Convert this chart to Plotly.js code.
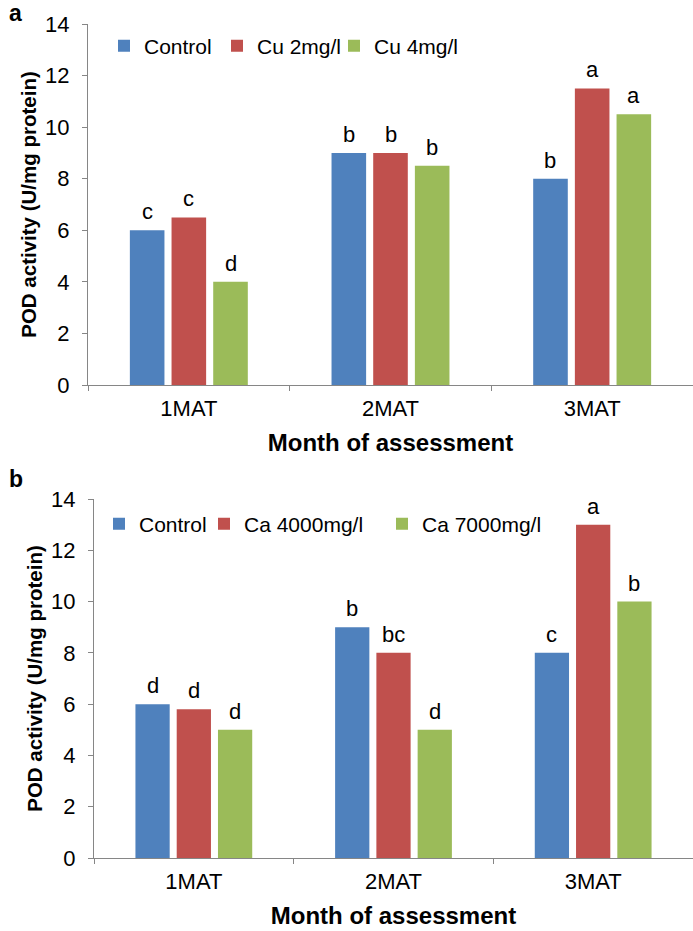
<!DOCTYPE html>
<html><head><meta charset="utf-8">
<script src="https://cdn.plot.ly/plotly-3.0.1.min.js"></script>
<style>html,body{margin:0;padding:0;background:#fff}#chart{width:693px;height:931px}</style>
</head><body><div id="chart"></div>
<script>
// ---- data ----
const categories = ['1MAT', '2MAT', '3MAT'];
const seriesNamesA = ['Control', 'Cu 2mg/l', 'Cu 4mg/l'];
const controlA = [6, 9, 8];
const cu2A = [6.5, 9, 11.5];
const cu4A = [4, 8.5, 10.5];
const lettersControlA = ['c', 'b', 'b'];
const lettersCu2A = ['c', 'b', 'a'];
const lettersCu4A = ['d', 'b', 'a'];

const seriesNamesB = ['Control', 'Ca 4000mg/l', 'Ca 7000mg/l'];
const controlB = [6, 9, 8];
const ca4000B = [5.8, 8, 13];
const ca7000B = [5, 5, 10];
const lettersControlB = ['d', 'b', 'c'];
const letters4000B = ['d', 'bc', 'a'];
const letters7000B = ['d', 'd', 'b'];

const yTickVals = [0, 2, 4, 6, 8, 10, 12, 14];
const yTitle = 'POD activity (U/mg protein)';
const xTitle = 'Month of assessment';

// ---- styling ----
const W = 693, H = 931;
const colors = ['#4F81BD', '#C0504D', '#9BBB59'];
const FONT = 'Liberation Sans, Arial, sans-serif';
const FS = 22;
const axisColor = '#868686';
const bargap = 0.38, bargroupgap = 0.17;

const panels = [
  {xa: 'x', ya: 'y', left: 88, y0: 385, y14: 24, names: seriesNamesA,
   vals: [controlA, cu2A, cu4A], letters: [lettersControlA, lettersCu2A, lettersCu4A],
   legendX: [106, 219, 336], legendY: 46},
  {xa: 'x2', ya: 'y2', left: 94, y0: 858, y14: 499, names: seriesNamesB,
   vals: [controlB, ca4000B, ca7000B], letters: [lettersControlB, letters4000B, letters7000B],
   legendX: [101, 206, 384], legendY: 524}
];

const traces = [];
const annotations = [];
const layout = {
  width: W, height: H, margin: {l: 0, r: 0, t: 0, b: 0},
  paper_bgcolor: '#fff', plot_bgcolor: '#fff',
  barmode: 'group', bargap: bargap, bargroupgap: bargroupgap,
  font: {family: FONT, size: FS, color: '#000'},
  showlegend: true
};

let legendIdx = 1;
panels.forEach((p, pi) => {
  const xKey = pi === 0 ? 'xaxis' : 'xaxis2';
  const yKey = pi === 0 ? 'yaxis' : 'yaxis2';
  layout[xKey] = {
    domain: [p.left / W, 1], anchor: p.ya, type: 'category',
    range: [-0.5, 2.5], showline: true, linecolor: axisColor, linewidth: 1,
    ticks: 'outside', tickson: 'boundaries', ticklen: 5, tickcolor: axisColor,
    showgrid: false, zeroline: false, automargin: false, ticklabelstandoff: 4,
    tickfont: {size: FS, family: FONT, color: '#000'},
    title: {text: '<b>' + xTitle + '</b>', font: {size: 24, family: FONT, color: '#000'}, standoff: 13}
  };
  layout[yKey] = {
    domain: [(H - p.y0) / H, (H - p.y14) / H], anchor: p.xa,
    range: [0, 14], tickvals: yTickVals, showline: true, linecolor: axisColor, linewidth: 1,
    ticks: 'outside', ticklen: 5, tickcolor: axisColor, showgrid: false, zeroline: false,
    automargin: false, ticklabelstandoff: 8,
    tickfont: {size: FS, family: FONT, color: '#000'},
    title: {text: '<b>' + yTitle + '</b>', font: {size: 20.5, family: FONT, color: '#000'}, standoff: 2}
  };
  const catPx = (W - p.left) / 3;
  const slotPx = catPx * (1 - bargap) / 3;
  p.vals.forEach((v, si) => {
    const lname = legendIdx === 1 ? 'legend' : 'legend' + legendIdx;
    traces.push({
      type: 'bar', x: categories, y: v, name: p.names[si],
      xaxis: p.xa, yaxis: p.ya, legend: lname,
      marker: {color: colors[si], line: {width: 0}}, hoverinfo: 'skip'
    });
    layout[lname] = {
      x: (p.legendX[si] - 2) / W, y: 1 - p.legendY / H, xanchor: 'left', yanchor: 'middle',
      bgcolor: 'rgba(0,0,0,0)', borderwidth: 0,
      font: {size: 21, family: FONT, color: '#000'}, orientation: 'h'
    };
    legendIdx++;
    v.forEach((val, ci) => {
      annotations.push({
        x: categories[ci], y: val, xref: p.xa, yref: p.ya,
        text: p.letters[si][ci], showarrow: false, yanchor: 'bottom',
        xshift: (si - 1) * slotPx, yshift: 4,
        font: {size: FS, family: FONT, color: '#000'}
      });
    });
  });
  annotations.push({
    x: 7 / W, y: 1 - (pi === 0 ? 13 : 479) / H, xref: 'paper', yref: 'paper',
    xanchor: 'left', yanchor: 'middle', showarrow: false,
    text: '<b>' + (pi === 0 ? 'a' : 'b') + '</b>', font: {size: 23, family: FONT, color: '#000'}
  });
});
layout.annotations = annotations;

Plotly.newPlot('chart', traces, layout, {displayModeBar: false, staticPlot: true});
</script></body></html>
